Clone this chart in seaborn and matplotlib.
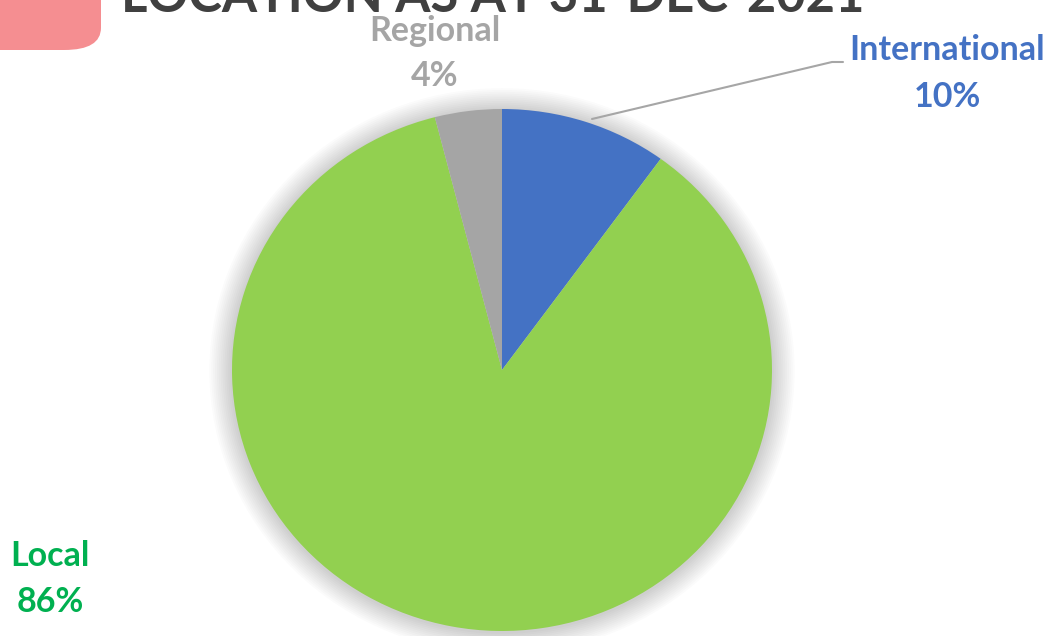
import matplotlib
matplotlib.use("Agg")
import matplotlib.pyplot as plt
import seaborn as sns
from matplotlib.patches import Ellipse, FancyBboxPatch

categories = ["International", "Local", "Regional"]
shares = [10, 86, 4]
pct_labels = ["10%", "86%", "4%"]
title = "LOCATION AS AT 31-DEC-2021"

wedge_colors = ["#4472C4", "#92D050", "#A5A5A5"]
label_colors = ["#4472C4", "#00B050", "#A5A5A5"]

sns.set_theme(style="white")
plt.rcParams["font.family"] = ["Lato", "DejaVu Sans"]

W, H = 1053, 636
fig = plt.figure(figsize=(W / 100, H / 100), dpi=100)
fig.patch.set_facecolor("white")
ax = fig.add_axes([0, 0, 1, 1])

cx, cy = 502, 370      # pixel centre
rx, ry = 270, 261      # pixel radii

def px(x, y):
    return (x - cx) / rx, (cy - y) / ry

# soft shadow
for i in range(12):
    s = 1 + 0.007 * (12 - i)
    ax.add_patch(Ellipse((0, -0.004), 2 * s, 2 * s,
                         facecolor="black", edgecolor="none", alpha=0.014, zorder=0))

ax.pie(shares, colors=wedge_colors, startangle=90, counterclock=False,
       radius=1, center=(0, 0), wedgeprops=dict(linewidth=0, zorder=2), frame=False)
ax.set_aspect("auto")
ax.set_xlim((0 - cx) / rx, (W - cx) / rx)
ax.set_ylim((cy - H) / ry, cy / ry)
ax.axis("off")

# labels
label_pos = [(947, 50, 97), (50, 556, 602), (435, 31, 76)]
for cat, pct, col, (lx, ly1, ly2) in zip(categories, pct_labels, label_colors, label_pos):
    x1, y1 = px(lx, ly1)
    x2, y2 = px(lx, ly2)
    ax.text(x1, y1, cat, color=col, fontsize=24.5, fontweight="bold", ha="center", va="center")
    ax.text(x2, y2, pct, color=col, fontsize=24.5, fontweight="bold", ha="center", va="center")

# leader line for International
lx_pts = [592, 832, 843]
ly_pts = [119, 62, 62]
pts = [px(a, b) for a, b in zip(lx_pts, ly_pts)]
ax.plot([p[0] for p in pts], [p[1] for p in pts], color="#A6A6A6", linewidth=1.5, zorder=3)

# title (cut off at top)
fig.text(493 / W, 1 - 12 / H, title, color="#404040", fontsize=36.5, fontweight="bold",
         ha="center", va="baseline")

# pink rounded shape top-left
fig.patches.append(FancyBboxPatch((-40 / W, (H - 50) / H), 141 / W, 100 / H,
                                  boxstyle="round,pad=0,rounding_size=0.035",
                                  transform=fig.transFigure, facecolor="#F58E91",
                                  edgecolor="none", figure=fig))

fig.savefig("out.png", dpi=100)
